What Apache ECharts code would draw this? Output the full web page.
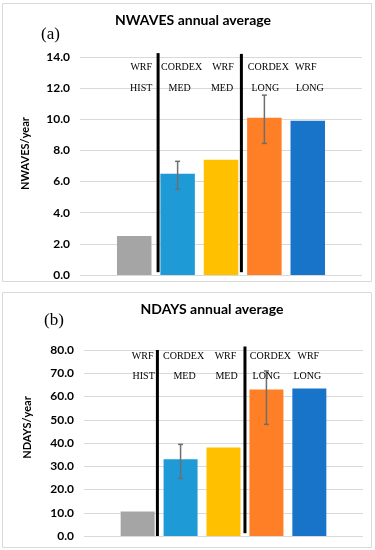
<!DOCTYPE html>
<html>
<head>
<meta charset="utf-8">
<script src="https://cdn.jsdelivr.net/npm/echarts@6/dist/echarts.min.js"></script>
<style>html,body{margin:0;padding:0;background:#fff}#c{width:375px;height:550px}</style>
</head>
<body>
<div id="c"></div>
<script>
// ---- data ----
var categories = ['WRF HIST', 'CORDEX MED', 'WRF MED', 'CORDEX LONG', 'WRF LONG'];
var labelTop = ['WRF', 'CORDEX', 'WRF', 'CORDEX', 'WRF'];
var labelBottom = ['HIST', 'MED', 'MED', 'LONG', 'LONG'];
var barColors = ['#A5A5A5', '#1E9BD7', '#FFC000', '#FF7F27', '#1874C8'];

var nwaves = [2.5, 6.5, 7.4, 10.1, 9.9];
var nwavesErrLow = [null, 5.5, null, 8.45, null];
var nwavesErrHigh = [null, 7.3, null, 11.55, null];

var ndays = [10.5, 33.0, 38.1, 63.0, 63.4];
var ndaysErrLow = [null, 24.8, null, 48.0, null];
var ndaysErrHigh = [null, 39.4, null, 71.0, null];

var ticksA = ['0.0','2.0','4.0','6.0','8.0','10.0','12.0','14.0'];
var ticksB = ['0.0','10.0','20.0','30.0','40.0','50.0','60.0','70.0','80.0'];

// ---- layout / styles ----
var FONT_SANS = 'Lato';
var panels = [
  {grid: {left: 80, width: 282, top: 57, height: 218}, yMax: 14, yInt: 2, ticks: ticksA,
   vals: nwaves, lo: nwavesErrLow, hi: nwavesErrHigh, barW: 34.5,
   sep: [{x: 1.55, y0: 14.25, y1: 0.18}, {x: 3.47, y0: 14.2, y1: 0.18}],
   rowY: [13.36, 12.0], dxTop: [7, 4, 2, 4, -2], dxBot: [7, 2, 1, 1, 2]},
  {grid: {left: 84, width: 279, top: 350, height: 186}, yMax: 80, yInt: 10, ticks: ticksB,
   vals: ndays, lo: ndaysErrLow, hi: ndaysErrHigh, barW: 34,
   sep: [{x: 1.46, y0: 80, y1: 0}, {x: 3.5, y0: 81.5, y1: 1.2}],
   rowY: [77.4, 68.5], dxTop: [5, 3, 2, 4, -1], dxBot: [6, 4, 3, 0, -2]}
];

var option = {
  animation: false,
  backgroundColor: '#fff',
  title: [
    {text: 'NWAVES annual average', left: 188, top: 8, textAlign: 'center',
     textStyle: {fontFamily: FONT_SANS, fontWeight: 'bold', fontSize: 14, color: '#000'}},
    {text: 'NDAYS annual average', left: 207, top: 297, textAlign: 'center',
     textStyle: {fontFamily: FONT_SANS, fontWeight: 'bold', fontSize: 14, color: '#000'}}
  ],
  graphic: [
    {type: 'rect', shape: {x: 2.5, y: 3.5, width: 369, height: 278}, style: {fill: 'none', stroke: '#D9D9D9', lineWidth: 1}},
    {type: 'rect', shape: {x: 2.5, y: 292.5, width: 369, height: 255}, style: {fill: 'none', stroke: '#D9D9D9', lineWidth: 1}},
    {type: 'text', x: 41, y: 26, style: {text: '(a)', font: '17px "Liberation Serif"', fill: '#000'}},
    {type: 'text', x: 44, y: 312, style: {text: '(b)', font: '17px "Liberation Serif"', fill: '#000'}},
    {type: 'text', x: 25, y: 153.5, rotation: Math.PI / 2,
     style: {text: 'NWAVES/year', font: 'bold 11px Lato', fill: '#000', align: 'center', verticalAlign: 'middle'}},
    {type: 'text', x: 27, y: 427.5, rotation: Math.PI / 2,
     style: {text: 'NDAYS/year', font: 'bold 11px Lato', fill: '#000', align: 'center', verticalAlign: 'middle'}}
  ],
  grid: [],
  xAxis: [],
  yAxis: [],
  series: []
};

panels.forEach(function (p, k) {
  option.grid.push(p.grid);
  option.xAxis.push({type: 'value', gridIndex: k, min: -0.25, max: 6.25, show: false, splitLine: {show: false}});
  option.yAxis.push({
    type: 'value', gridIndex: k, min: 0, max: p.yMax, interval: p.yInt,
    axisLine: {show: false}, axisTick: {show: false},
    axisLabel: {margin: 10, fontFamily: FONT_SANS, fontWeight: 'bold', fontSize: 12, color: '#000',
      formatter: function (v) { return p.ticks[Math.round(v / p.yInt)]; }},
    splitLine: {lineStyle: {color: '#D9D9D9', width: 1}}
  });
  // bars
  option.series.push({
    type: 'bar', xAxisIndex: k, yAxisIndex: k, barWidth: p.barW,
    data: p.vals.map(function (v, i) {
      return {value: [i + 1, v], itemStyle: {color: barColors[i]}};
    })
  });
  // error bars
  var errData = [];
  p.vals.forEach(function (v, i) {
    if (p.lo[i] != null) errData.push([i + 1, p.lo[i], p.hi[i]]);
  });
  option.series.push({
    type: 'custom', xAxisIndex: k, yAxisIndex: k, z: 5,
    data: errData,
    renderItem: function (params, api) {
      var lo = api.coord([api.value(0), api.value(1)]);
      var hi = api.coord([api.value(0), api.value(2)]);
      var c = 2.5;
      var st = {stroke: '#6E6E6E', lineWidth: 1.5};
      return {type: 'group', children: [
        {type: 'line', shape: {x1: lo[0], y1: lo[1], x2: hi[0], y2: hi[1]}, style: st},
        {type: 'line', shape: {x1: lo[0] - c, y1: lo[1], x2: lo[0] + c, y2: lo[1]}, style: st},
        {type: 'line', shape: {x1: hi[0] - c, y1: hi[1], x2: hi[0] + c, y2: hi[1]}, style: st}
      ]};
    }
  });
  // separators
  option.series.push({
    type: 'custom', xAxisIndex: k, yAxisIndex: k, z: 6, clip: false,
    data: p.sep.map(function (s) { return [s.x, s.y0, s.y1]; }),
    renderItem: function (params, api) {
      var a = api.coord([api.value(0), api.value(1)]);
      var b = api.coord([api.value(0), api.value(2)]);
      return {type: 'line', shape: {x1: a[0], y1: a[1], x2: b[0], y2: b[1]}, style: {stroke: '#000', lineWidth: 3}};
    }
  });
  // category text labels
  var txt = [];
  categories.forEach(function (c, i) {
    txt.push({value: [i + 1, p.rowY[0]], name: labelTop[i], dx: p.dxTop[i]});
    txt.push({value: [i + 1, p.rowY[1]], name: labelBottom[i], dx: p.dxBot[i]});
  });
  option.series.push({
    type: 'custom', xAxisIndex: k, yAxisIndex: k, z: 7, clip: false,
    data: txt.map(function (t) { return [t.value[0], t.value[1], t.dx]; }),
    renderItem: function (params, api) {
      var pt = api.coord([api.value(0), api.value(1)]);
      var t = txt[params.dataIndex];
      return {type: 'text', x: pt[0] + api.value(2), y: pt[1],
        style: {text: t.name, font: '10px "Liberation Serif"', fill: '#000', align: 'center', verticalAlign: 'middle'}};
    }
  });
});

var chart = echarts.init(document.getElementById('c'), null, {renderer: 'canvas'});
chart.setOption(option);
</script>
</body>
</html>
